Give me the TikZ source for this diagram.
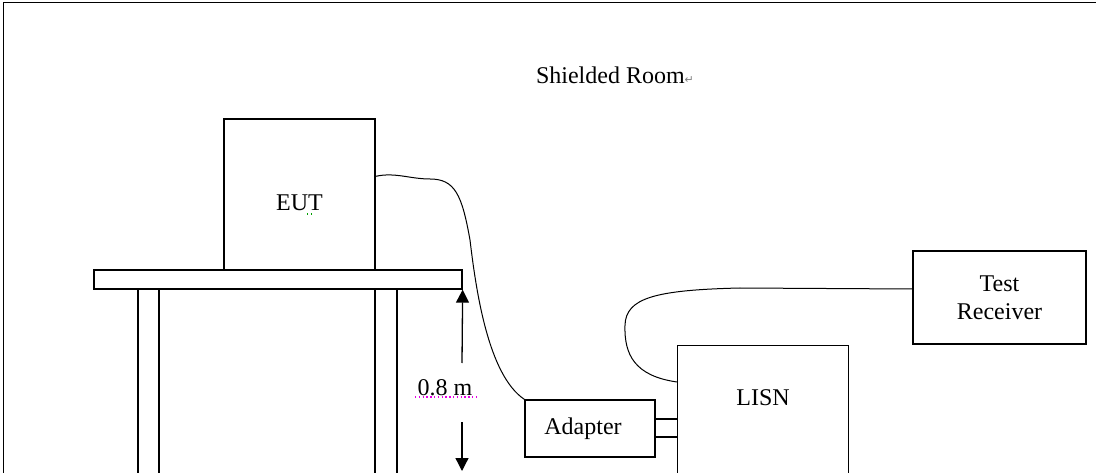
\documentclass[tikz,border=0pt]{standalone}
\usepackage{fontspec}
\setmainfont{Liberation Serif}
\newfontfamily\symfont{DejaVu Sans}
\usepackage{tikz}
\usetikzlibrary{arrows.meta,positioning,calc}
\definecolor{spellred}{RGB}{230,0,230}
\definecolor{spellgreen}{RGB}{0,160,0}

\begin{document}
\begin{tikzpicture}[
    x=1pt, y=-1pt,
    box/.style={rectangle, draw=black, line width=1.3pt, inner sep=0pt, font=\fontsize{24}{28}\selectfont},
    lbl/.style={inner sep=0pt, font=\fontsize{24}{28}\selectfont},
    cable/.style={draw=black, line width=1pt},
    dim/.style={draw=black, line width=1.3pt, -{Triangle[width=13pt,length=13pt]}},
    spell/.style={line width=1.3pt, dash pattern=on 1.3pt off 2.5pt}
]
\useasboundingbox (0,0) rectangle (1096,473);

% Shielded room
\draw[line width=1.3pt] (3.5,520) -- (3.5,2.5) -- (1120,2.5);
\node[lbl] (room) at (615,75) {Shielded Room{\symfont\fontsize{11}{11}\selectfont\textcolor{gray}{↵}}};

% Table with EUT
\node[box, minimum width=151pt, minimum height=151pt] (eut) at (299.5,194.5) {};
\node[lbl] (eutlbl) at ([yshift=-8pt]eut.center) {EUT};
\node[box, minimum width=368pt, minimum height=19pt] (table) at (278,279.5) {};
\node[box, minimum width=21pt, minimum height=220pt, anchor=north] (legL) at (148.5,289) {};
\node[box, minimum width=22pt, minimum height=220pt, anchor=north] (legR) at (386,289) {};
\draw[spell, spellgreen] (307,214) -- (314,214);

% Height of the table
\node[lbl] (height) at (445,388) {0.8 m};
\draw[spell, spellred] (415,397) -- (476,397);
\coordinate (dimA) at (462,363);
\coordinate (dimB) at (462,422);
\coordinate (floor) at (462,471);
\draw[dim] (dimA) -- (table.south east);
\draw[dim] (dimB) -- (floor);

% Adapter, LISN and receiver
\node[box, minimum width=130pt, minimum height=57pt] (adapter) at (590,428.5) {};
\node[lbl] (adapterlbl) at ([xshift=-7pt]adapter.center) {Adapter};
\node[box, minimum width=171pt, minimum height=200pt, anchor=north west] (lisn) at (677,345) {};
\node[lbl] (lisnlbl) at ([yshift=-53pt]lisn.north) {LISN};
\node[box, minimum width=173pt, minimum height=93pt, align=center] (rx) at (999.5,297.5) {Test\\Receiver};

% Plug between adapter and LISN
\draw[line width=1.3pt] ([yshift=9.5pt]adapter.east) -- ([yshift=9.5pt]adapter.east -| lisn.west);
\draw[line width=1.3pt] ([yshift=-8.5pt]adapter.east) -- ([yshift=-8.5pt]adapter.east -| lisn.west);

% Cables
\coordinate (eutport) at ([yshift=-58pt]eut.north east);
\coordinate (lisnport) at ([yshift=-37pt]lisn.north west);
\coordinate (rxport) at ([yshift=8.5pt]rx.west);
\draw[cable] (eutport) .. controls (395,172) and (410,179) .. (430,179)
    .. controls (455,179) and (462,195) .. (470,240)
    .. controls (476,290) and (488,375) .. (adapter.north west);
\draw[cable] (lisnport) .. controls (635,376) and (624,355) .. (625,325)
    .. controls (626,298) and (655,290) .. (740,288) -- (rxport);

\end{tikzpicture}
\end{document}
